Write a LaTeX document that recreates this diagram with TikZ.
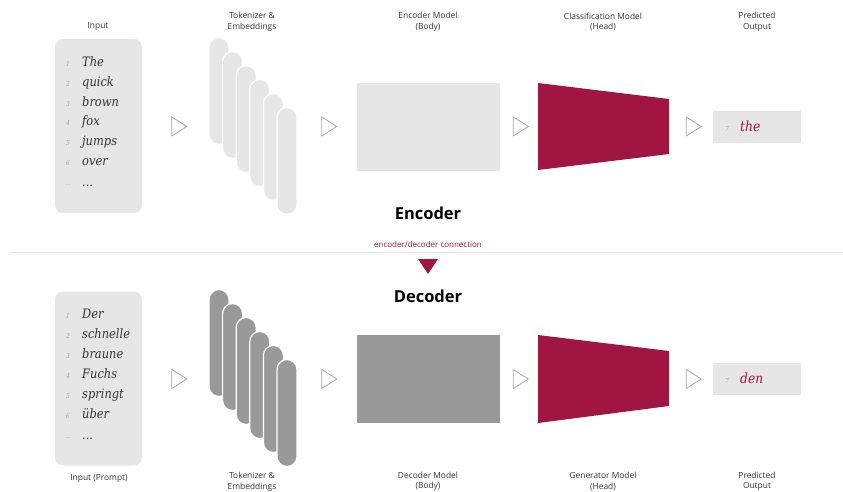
\documentclass[tikz,border=0pt]{standalone}
\usepackage{fontspec}
\setsansfont{Open Sans}
\newfontfamily\wordfont[FakeStretch=0.88]{DejaVu Serif}
\usetikzlibrary{shapes.geometric}

\definecolor{boxgray}{HTML}{E6E6E6}
\definecolor{bodygray}{HTML}{999999}
\definecolor{headred}{HTML}{A01541}
\definecolor{arrowgray}{HTML}{A8A8A8}
\definecolor{numgray}{HTML}{A3A3A3}
\definecolor{rulegray}{HTML}{E2E2E2}

\tikzset{
    caption/.style={align=center, inner sep=0pt, text=black!80, font=\sffamily\fontsize{8.4}{10.5}\selectfont},
    title/.style={inner sep=0pt, font=\sffamily\bfseries\fontsize{16.5}{16.5}\selectfont},
    word/.style={anchor=base west, inner sep=0pt, text=black!80, font=\wordfont\itshape\fontsize{13}{13}\selectfont},
    num/.style={anchor=base, inner sep=0pt, text=numgray, font=\wordfont\itshape\fontsize{6.8}{6.8}\selectfont},
    pill/.style={rectangle, rounded corners=10pt, minimum width=20pt, minimum height=107pt, draw=white, line width=1.2pt, inner sep=0pt},
    stagearrow/.style={isosceles triangle, isosceles triangle stretches, minimum width=19pt, minimum height=15pt, inner sep=0pt, draw=arrowgray, line width=0.8pt}
}

\begin{document}
\begin{tikzpicture}[x=1pt, y=-1pt]
    \useasboundingbox (0,0) rectangle (843,491);

    % encoder row
    \node[caption] (encinlabel) at (98,27) {Input};
    \node[caption] (enctoklabel) at (252,22) {Tokenizer \&\\Embeddings};
    \node[caption] (encbodylabel) at (428,22) {Encoder Model\\(Body)};
    \node[caption] (encheadlabel) at (603,22) {Classification Model\\(Head)};
    \node[caption] (encoutlabel) at (757,22) {Predicted\\Output};

    \node[rectangle, rounded corners=8pt, fill=boxgray, minimum width=87pt, minimum height=174pt, inner sep=0pt] (encin) at (98.5,126) {};
    \node[num] (encnum1) at (68,66.5) {1};      \node[word] (encword1) at (82,66.5) {The};
    \node[num] (encnum2) at (68,86.5) {2};      \node[word] (encword2) at (82,86.5) {quick};
    \node[num] (encnum3) at (68,106.5) {3};     \node[word] (encword3) at (82,106.5) {brown};
    \node[num] (encnum4) at (68,125.5) {4};     \node[word] (encword4) at (82,125.5) {fox};
    \node[num] (encnum5) at (68,145.5) {5};     \node[word] (encword5) at (82,145.5) {jumps};
    \node[num] (encnum6) at (68,165.5) {6};     \node[word] (encword6) at (82,165.5) {over};
    \node[num] (encnum7) at (68,185.5) {...};   \node[word] (encword7) at (82,186) {...};

    \node[stagearrow] (encarrow1) at (177,126.5) {};

    \node[pill, fill=boxgray] (enctok1) at (219,91) {};
    \node[pill, fill=boxgray] (enctok2) at (232.6,105) {};
    \node[pill, fill=boxgray] (enctok3) at (246.2,119) {};
    \node[pill, fill=boxgray] (enctok4) at (259.8,133) {};
    \node[pill, fill=boxgray] (enctok5) at (273.4,147) {};
    \node[pill, fill=boxgray] (enctok6) at (287,161) {};

    \node[stagearrow] (encarrow2) at (327,126.5) {};

    \node[rectangle, fill=boxgray, minimum width=143pt, minimum height=88pt, inner sep=0pt] (encbody) at (428.5,127) {};

    \node[stagearrow] (encarrow3) at (518.5,126.5) {};

    \fill[headred] (538,83) -- (669,99) -- (669,154) -- (538,170) -- cycle;

    \node[stagearrow] (encarrow4) at (691.5,126.5) {};

    \node[rectangle, fill=boxgray, minimum width=88pt, minimum height=32pt, inner sep=0pt] (encout) at (757,127) {};
    \node[num] (encoutnum) at (727,131) {7};
    \node[word, text=headred, font=\wordfont\itshape\fontsize{14}{14}\selectfont] (encoutword) at (740,131) {the};

    \node[title] (enctitle) at (428,213) {Encoder};

    % connection
    \node[inner sep=0pt, text=headred, font=\sffamily\fontsize{8}{8}\selectfont] (linklabel) at (428,244) {encoder/decoder connection};
    \draw[rulegray, line width=0.8pt] (10,252.5) -- (843,252.5);
    \fill[headred] (418,259) -- (438,259) -- (428,274) -- cycle;

    % decoder row
    \node[title] (dectitle) at (428,296) {Decoder};

    \node[rectangle, rounded corners=8pt, fill=boxgray, minimum width=87pt, minimum height=174pt, inner sep=0pt] (decin) at (98.5,378.5) {};
    \node[num] (decnum1) at (68,318.5) {1};      \node[word] (decword1) at (82,318.5) {Der};
    \node[num] (decnum2) at (68,338.5) {2};      \node[word] (decword2) at (82,338.5) {schnelle};
    \node[num] (decnum3) at (68,358.5) {3};      \node[word] (decword3) at (82,358.5) {braune};
    \node[num] (decnum4) at (68,378.5) {4};      \node[word] (decword4) at (82,378.5) {Fuchs};
    \node[num] (decnum5) at (68,398.5) {5};      \node[word] (decword5) at (82,398.5) {springt};
    \node[num] (decnum6) at (68,418.5) {6};      \node[word] (decword6) at (82,418.5) {über};
    \node[num] (decnum7) at (68,438.5) {...};    \node[word] (decword7) at (82,439) {...};

    \node[stagearrow] (decarrow1) at (177,379) {};

    \node[pill, fill=bodygray] (dectok1) at (219,343) {};
    \node[pill, fill=bodygray] (dectok2) at (232.6,357) {};
    \node[pill, fill=bodygray] (dectok3) at (246.2,371) {};
    \node[pill, fill=bodygray] (dectok4) at (259.8,385) {};
    \node[pill, fill=bodygray] (dectok5) at (273.4,399) {};
    \node[pill, fill=bodygray] (dectok6) at (287,413) {};

    \node[stagearrow] (decarrow2) at (327,379) {};

    \node[rectangle, fill=bodygray, minimum width=143pt, minimum height=88pt, inner sep=0pt] (decbody) at (428.5,379) {};

    \node[stagearrow] (decarrow3) at (518.5,379) {};

    \fill[headred] (538,335) -- (669,351) -- (669,406) -- (538,423) -- cycle;

    \node[stagearrow] (decarrow4) at (691.5,379) {};

    \node[rectangle, fill=boxgray, minimum width=88pt, minimum height=32pt, inner sep=0pt] (decout) at (757,379) {};
    \node[num] (decoutnum) at (727,383) {7};
    \node[word, text=headred, font=\wordfont\itshape\fontsize{14}{14}\selectfont] (decoutword) at (740,383) {den};

    \node[caption] (decinlabel) at (99,478.5) {Input (Prompt)};
    \node[caption] (dectoklabel) at (252,482) {Tokenizer \&\\Embeddings};
    \node[caption] (decbodylabel) at (428,481.5) {Decoder Model\\(Body)};
    \node[caption] (decheadlabel) at (603,481.5) {Generator Model\\(Head)};
    \node[caption] (decoutlabel) at (757,481.5) {Predicted\\Output};
\end{tikzpicture}
\end{document}
